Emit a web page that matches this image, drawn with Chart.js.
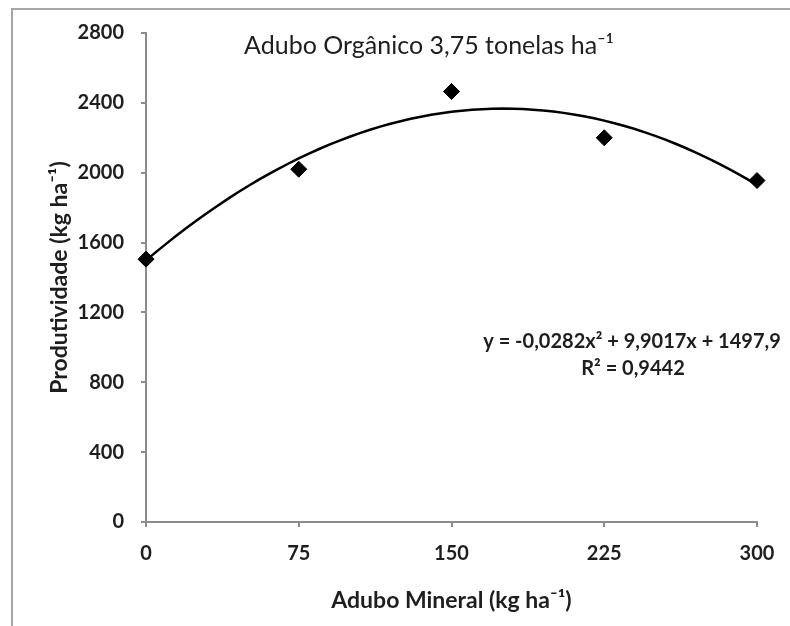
<!DOCTYPE html>
<html>
<head>
<meta charset="utf-8">
<script src="https://cdn.jsdelivr.net/npm/chart.js@4.4.1/dist/chart.umd.min.js"></script>
<style>
  html, body { margin: 0; padding: 0; background: #fff; }
  #wrap { position: relative; width: 790px; height: 626px; overflow: hidden; }
  #frame { position: absolute; left: 11px; top: 8px; width: 820px; height: 700px; border: 2px solid #a6a6a6; }
  #chart { position: absolute; left: 0; top: 0; }
</style>
</head>
<body>
<div id="wrap">
  <div id="frame"></div>
  <canvas id="chart" width="790" height="626"></canvas>
</div>
<script>
document.addEventListener('DOMContentLoaded', () => {
    const ctx = document.getElementById('chart').getContext('2d');

    // doses of mineral fertiliser and measured yield
    const doses = [0, 75, 150, 225, 300];
    const yields = [1505, 2020, 2465, 2200, 1955];

    // fitted quadratic: y = a x^2 + b x + c
    const coef = [-0.0282, 9.9017, 1497.9];
    const fitLabel = 'y = -0,0282x² + 9,9017x + 1497,9';
    const r2Label = 'R² = 0,9442';

    const xTicks = [0, 75, 150, 225, 300];
    const yTicks = [0, 400, 800, 1200, 1600, 2000, 2400, 2800];

    const fitPoints = [];
    for (let x = 0; x <= 300; x += 5) {
        fitPoints.push({ x: x, y: coef[0] * x * x + coef[1] * x + coef[2] });
    }

    const textColor = '#1e1e1e';
    const axisColor = '#8c8c8c';
    const fontFamily = 'Lato, "Open Sans", sans-serif';

    // chart heading and the regression text inside the plot
    const annotations = {
        id: 'annotations',
        afterDraw(chart) {
            const c = chart.ctx;
            c.save();
            c.fillStyle = textColor;
            c.textAlign = 'center';
            c.textBaseline = 'middle';
            c.font = '25px ' + fontFamily;
            c.fillText('Adubo Orgânico 3,75 tonelas ha⁻¹', 429, 46);
            c.font = 'bold 20px ' + fontFamily;
            c.fillText(fitLabel, 632, 342);
            c.fillText(r2Label, 633, 369);
            c.restore();
        }
    };

    new Chart(ctx, {
        type: 'scatter',
        data: {
            datasets: [{
                label: 'Tendência',
                data: fitPoints,
                showLine: true,
                borderColor: '#000',
                borderWidth: 2.5,
                pointRadius: 0,
                tension: 0,
                clip: false
            }, {
                label: 'Produtividade',
                data: doses.map((d, i) => ({ x: d, y: yields[i] })),
                pointStyle: 'rectRot',
                pointRadius: 8,
                backgroundColor: '#000',
                borderColor: '#000',
                borderWidth: 1,
                clip: false
            }]
        },
        options: {
            responsive: false,
            animation: false,
            layout: { padding: { left: 0, top: 33, right: 33, bottom: 0 } },
            plugins: {
                legend: { display: false },
                tooltip: { enabled: false }
            },
            scales: {
                x: {
                    type: 'linear',
                    min: 0,
                    max: 300,
                    afterFit: (scale) => { scale.height = 104; },
                    afterBuildTicks: (scale) => { scale.ticks = xTicks.map(v => ({ value: v })); },
                    grid: { drawOnChartArea: false, color: axisColor, lineWidth: 2, tickLength: 5 },
                    border: { color: axisColor, width: 2 },
                    ticks: {
                        color: textColor, padding: 15,
                        font: { family: fontFamily, size: 20, weight: 'bold' },
                        callback: (v) => String(v)
                    },
                    title: {
                        display: true,
                        text: 'Adubo Mineral (kg ha⁻¹)',
                        color: textColor,
                        padding: { top: 4, bottom: 12 },
                        font: { family: fontFamily, size: 23, weight: 'bold' }
                    }
                },
                y: {
                    min: 0,
                    max: 2800,
                    afterFit: (scale) => { scale.width = 146; },
                    afterBuildTicks: (scale) => { scale.ticks = yTicks.map(v => ({ value: v })); },
                    grid: { drawOnChartArea: false, color: axisColor, lineWidth: 2, tickLength: 5 },
                    border: { color: axisColor, width: 2 },
                    ticks: {
                        color: textColor, padding: 17,
                        font: { family: fontFamily, size: 20, weight: 'bold' },
                        callback: (v) => String(v)
                    },
                    title: {
                        display: true,
                        text: 'Produtividade (kg ha⁻¹)',
                        color: textColor,
                        padding: { top: 46 },
                        font: { family: fontFamily, size: 23, weight: 'bold' }
                    }
                }
            }
        },
        plugins: [annotations]
    });
});
</script>
</body>
</html>
